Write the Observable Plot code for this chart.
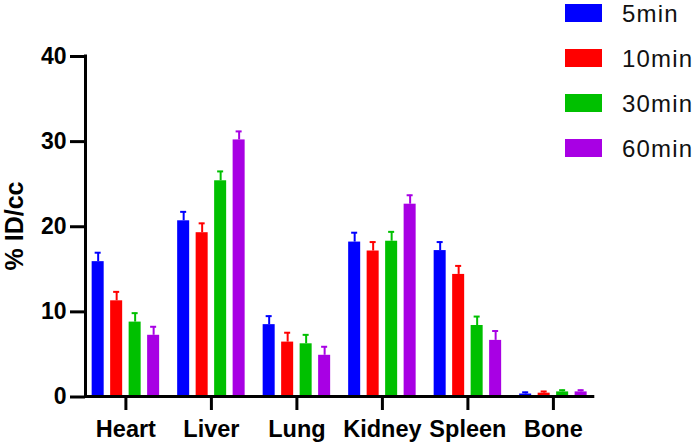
<!DOCTYPE html>
<html><head><meta charset="utf-8">
<script src="https://cdn.jsdelivr.net/npm/d3@7"></script>
<script src="https://cdn.jsdelivr.net/npm/@observablehq/plot@0.6"></script>
<style>
body{margin:0;background:#fff;font-family:Arial,"Liberation Sans",sans-serif;}
#wrap{position:relative;width:700px;height:444px;overflow:hidden;}
.sw{position:absolute;left:565px;width:37px;height:18px;}
.lab{position:absolute;left:622px;height:18px;line-height:18px;font-size:24px;letter-spacing:1.2px;color:#111;font-family:Arial,"Liberation Sans",sans-serif;white-space:nowrap;}
#ylab{position:absolute;left:13.5px;top:226px;transform:translate(-50%,-50%) rotate(-90deg);font-size:25px;font-weight:bold;white-space:nowrap;line-height:25px;color:#000;}
</style></head>
<body>
<div id="wrap"><div id="ylab"></div></div>
<script>
const organs = ["Heart", "Liver", "Lung", "Kidney", "Spleen", "Bone"];
const times = ["5min", "10min", "30min", "60min"];
const colors = ["#0000ff", "#ff0000", "#00c000", "#a800e4"];
const yLabel = "% ID/cc";
// mean values per time point (order of organs)
const v5  = [15.9, 20.7, 8.5, 18.2, 17.2, 0.35];
const v10 = [11.3, 19.3, 6.45, 17.15, 14.4, 0.45];
const v30 = [8.8, 25.4, 6.25, 18.3, 8.4, 0.6];
const v60 = [7.25, 30.2, 4.9, 22.65, 6.65, 0.6];
// upper error (SD)
const e5  = [1.05, 1.05, 1.0, 1.1, 1.0, 0.2];
const e10 = [1.05, 1.1, 1.1, 1.05, 1.0, 0.2];
const e30 = [1.05, 1.1, 1.05, 1.1, 1.05, 0.2];
const e60 = [1.0, 1.0, 1.0, 1.05, 1.1, 0.2];
const yTicks = [0, 10, 20, 30, 40];

const series = [v5, v10, v30, v60];
const errs = [e5, e10, e30, e60];
const data = [];
organs.forEach((o, i) => times.forEach((t, j) => data.push({organ: o, time: t, value: series[j][i], err: errs[j][i], top: series[j][i] + errs[j][i]})));

const font = "Arial, 'Liberation Sans', sans-serif";
const chart = Plot.plot({
  width: 700, height: 444,
  marginLeft: 85, marginRight: 106.7, marginTop: 56, marginBottom: 47.5,
  style: {fontFamily: font, color: "#000", background: "transparent", overflow: "visible"},
  fx: {domain: organs, paddingInner: 0.055, paddingOuter: 0, round: false, label: null},
  x: {domain: times, paddingInner: 0.35, paddingOuter: 0.36, round: false, axis: null},
  y: {domain: [0, 40], ticks: yTicks},
  color: {domain: times, range: colors},
  marks: [
    Plot.axisY({ticks: yTicks, tickSize: 15, tickPadding: 4, strokeWidth: 3, fontSize: 23, fontWeight: "bold", label: null}),
    Plot.axisFx({anchor: "bottom", tickSize: 13.5, tickPadding: 10, strokeWidth: 3, fontSize: 23.5, fontWeight: "bold", label: null}),
    Plot.barY(data, {fx: "organ", x: "time", y: "value", fill: "time"}),
    Plot.ruleX(data, {fx: "organ", x: "time", y1: "value", y2: "top", stroke: "time", strokeWidth: 2}),
    Plot.tickY(data, {fx: "organ", x: "time", y: "top", stroke: "time", strokeWidth: 2, insetLeft: 3, insetRight: 3})
  ]
});

// axis lines drawn from the plot's own scales
const ys = chart.scale("y"), fxs = chart.scale("fx");
const svg = d3.select(chart);
const x0 = fxs.range[0], x1 = fxs.range[1];
svg.append("line").attr("x1", x0 + 0.5).attr("x2", x0 + 0.5).attr("y1", ys.apply(40) - 1.5).attr("y2", ys.apply(0) + 1.5)
  .attr("stroke", "#000").attr("stroke-width", 3);
svg.append("line").attr("x1", x0 - 1).attr("x2", x1 + 1).attr("y1", ys.apply(0)).attr("y2", ys.apply(0))
  .attr("stroke", "#000").attr("stroke-width", 3);

const wrap = document.getElementById("wrap");
wrap.prepend(chart);
document.getElementById("ylab").textContent = yLabel;

const w = d3.select(wrap);
times.forEach((t, i) => {
  const top = 3.5 + 45.3 * i;
  w.append("div").attr("class", "sw").style("top", top + "px").style("background", colors[i]);
  w.append("div").attr("class", "lab").style("top", (top + 1) + "px").text(t);
});
</script>
</body></html>
